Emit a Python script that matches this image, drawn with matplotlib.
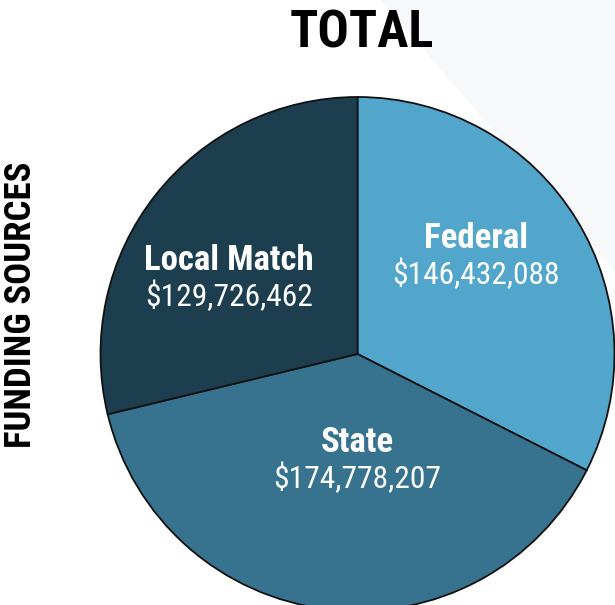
import matplotlib.pyplot as plt
from matplotlib.patches import Polygon

labels = ['Federal', 'State', 'Local Match']
amounts = [146432088, 174778207, 129726462]
colors = ['#52a5cb', '#37738f', '#1d3e4f']

W, H = 615, 605
fig = plt.figure(figsize=(W / 100, H / 100), dpi=100)
fig.patch.set_facecolor('white')

# very faint grey wash in the upper right corner (behind the pie)
bg = Polygon([(0.62, 1.0), (1.0, 1.0), (1.0, 0.55)], closed=True,
             transform=fig.transFigure, facecolor='#f7f8fa', edgecolor='none', zorder=-5)
fig.patches.append(bg)

cond = ['Roboto Condensed', 'Archivo Narrow', 'PT Sans Narrow',
        'Liberation Sans Narrow', 'DejaVu Sans']

# pie: centre (357.5, 354) px, radius 257 px
ax = fig.add_axes([100.5 / W, (H - 611) / H, 514 / W, 514 / H], zorder=2)
ax.patch.set_alpha(0)
ax.pie(amounts, colors=colors, startangle=90, counterclock=False, radius=1,
       wedgeprops=dict(edgecolor='#111111', linewidth=1.3))
ax.set_xlim(-1, 1)
ax.set_ylim(-1, 1)
ax.set_aspect('equal')
ax.axis('off')


def px(x, y):
    return x / W, 1 - y / H


# label positions in pixels (picked by eye from the reference)
label_pos = [(476, 238), (357, 442), (229, 260)]
for name, amt, (x, y) in zip(labels, amounts, label_pos):
    fig.text(*px(x, y), name, ha='center', va='center', color='white',
             fontsize=25, fontweight='bold', family=cond, zorder=5)
    fig.text(*px(x, y + 36), f'${amt:,}', ha='center', va='center', color='white',
             fontsize=22.7, family=cond, zorder=5)

fig.text(*px(362, 33), 'TOTAL', ha='center', va='center', fontsize=37.5,
         fontweight='bold', family=cond)
fig.text(*px(21, 305), 'FUNDING SOURCES', ha='center', va='center', fontsize=26.5,
         fontweight='bold', rotation=90, family=cond)

fig.savefig('out.png', dpi=100)
